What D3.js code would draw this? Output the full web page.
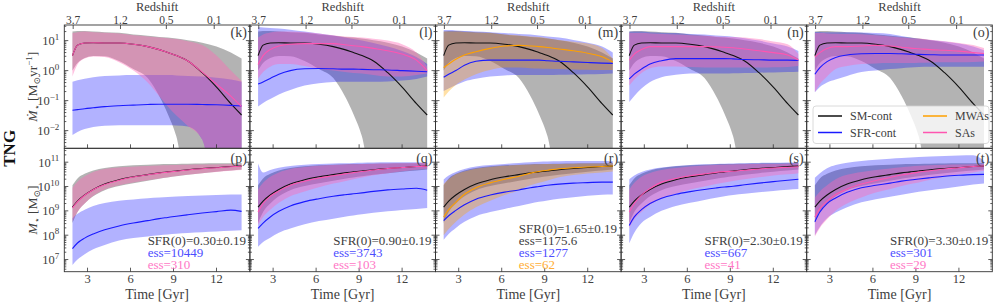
<!DOCTYPE html>
<html>
<meta charset="utf-8">
<title>TNG SFR / stellar mass histories</title>
<script src="https://d3js.org/d3.v7.min.js" charset="utf-8"></script>
<style>
  body { margin: 0; background: #fff; }
  svg, text { font-family: "Liberation Serif", "DejaVu Serif", serif; }
  text { fill: #404040; }
  .frame { fill: none; stroke: #333; stroke-width: 0.9; }
  .tick { stroke: #333; stroke-width: 0.8; }
</style>
<body>
<script>

// ---- data (log10 values) ----
var times = [1.95, 2.3, 2.8, 3.4, 4.2, 5.2, 6.2, 7.2, 8.0, 8.6, 9.2, 10.0, 11.0, 12.0, 13.0, 13.75];

var panelsTop = ["(k)", "(l)", "(m)", "(n)", "(o)"];
var panelsBot = ["(p)", "(q)", "(r)", "(s)", "(t)"];
var sfr0Labels = ["SFR(0)=0.30\u00b10.19", "SFR(0)=0.90\u00b10.19", "SFR(0)=1.65\u00b10.19", "SFR(0)=2.30\u00b10.19", "SFR(0)=3.30\u00b10.19"];
var essSM = [null, null, "ess=1175.6", null, null];
var essSFR = ["ess=10449", "ess=3743", "ess=1277", "ess=667", "ess=301"];
var essSample = ["ess=310", "ess=103", "ess=62", "ess=41", "ess=29"];
var sampleKind = ["SAs", "SAs", "MWAs", "SAs", "SAs"];

var redshiftTicks = [2.0, 5.3, 8.5, 11.84];
var redshiftLabels = ["3.7", "1.2", "0.5", "0.1"];
var timeTicks = [3, 6, 9, 12];
var sfrTicks = [-2, -1, 0, 1];
var massTicks = [7, 8, 9, 10, 11];

// SM-cont, star formation rate (same control sample in every panel)
var smSfrMed = [0.5, 0.85, 0.92, 0.93, 0.92, 0.92, 0.88, 0.8, 0.7, 0.6, 0.5, 0.32, -0.07, -0.55, -1.1, -1.48];
var smSfrHi  = [1.3, 1.32, 1.32, 1.3, 1.28, 1.26, 1.2, 1.16, 1.12, 1.1, 1.07, 1.01, 0.93, 0.8, 0.6, 0.4];
var smSfrLo  = [0.0, 0.25, 0.42, 0.49, 0.48, 0.32, 0.05, -0.25, -0.85, -1.45, -2.2, -4, -4, -4, -4, -4];

// SFR-cont, star formation rate, one row per panel
var sfrSfrMed = [
  [-1.32, -1.3, -1.27, -1.24, -1.2, -1.17, -1.15, -1.13, -1.12, -1.12, -1.12, -1.12, -1.13, -1.14, -1.16, -1.18],
  [-0.45, -0.38, -0.26, -0.12, 0.0, 0.06, 0.07, 0.06, 0.05, 0.05, 0.04, 0.03, 0.02, 0.0, -0.02, -0.04],
  [-0.22, -0.12, 0.0, 0.18, 0.31, 0.35, 0.35, 0.35, 0.35, 0.35, 0.33, 0.31, 0.29, 0.27, 0.25, 0.24],
  [-0.28, -0.12, 0.05, 0.22, 0.33, 0.4, 0.4, 0.4, 0.4, 0.4, 0.39, 0.37, 0.36, 0.35, 0.35, 0.34],
  [-0.12, 0.1, 0.3, 0.44, 0.52, 0.56, 0.57, 0.57, 0.56, 0.55, 0.54, 0.53, 0.52, 0.52, 0.52, 0.52]
];
var sfrSfrHi = [
  [-0.37, -0.32, -0.27, -0.22, -0.18, -0.16, -0.15, -0.15, -0.15, -0.15, -0.16, -0.18, -0.2, -0.24, -0.3, -0.37],
  [1.45, 1.44, 1.42, 1.4, 1.36, 1.3, 1.24, 1.17, 1.1, 1.05, 1.0, 0.92, 0.8, 0.65, 0.45, 0.22],
  [1.35, 1.35, 1.34, 1.32, 1.3, 1.28, 1.25, 1.22, 1.2, 1.17, 1.14, 1.1, 1.02, 0.93, 0.8, 0.6],
  [1.3, 1.3, 1.3, 1.28, 1.26, 1.25, 1.22, 1.2, 1.17, 1.15, 1.13, 1.08, 1.0, 0.9, 0.8, 0.65],
  [1.29, 1.29, 1.28, 1.28, 1.28, 1.27, 1.25, 1.22, 1.15, 1.1, 1.06, 1.02, 0.97, 0.9, 0.8, 0.68]
];
var sfrSfrLo = [
  [-2.15, -2.05, -1.95, -1.88, -1.84, -1.82, -1.82, -1.82, -1.82, -1.82, -1.83, -1.86, -2.3, -4, -4, -4],
  [-1.2, -1.08, -0.95, -0.8, -0.65, -0.5, -0.42, -0.38, -0.37, -0.37, -0.37, -0.37, -0.36, -0.33, -0.28, -0.2],
  [-0.68, -0.6, -0.48, -0.36, -0.27, -0.2, -0.16, -0.15, -0.15, -0.15, -0.15, -0.14, -0.13, -0.12, -0.11, -0.1],
  [-1.05, -0.85, -0.6, -0.38, -0.22, -0.14, -0.1, -0.1, -0.1, -0.1, -0.09, -0.08, -0.07, -0.06, -0.05, -0.04],
  [-0.72, -0.55, -0.4, -0.3, -0.18, -0.05, 0.0, 0.05, 0.08, 0.1, 0.12, 0.13, 0.13, 0.13, 0.13, 0.13]
];

// SAs / MWAs sample, star formation rate
var smpSfrMed = [
  [0.5, 0.85, 0.92, 0.93, 0.92, 0.92, 0.88, 0.8, 0.7, 0.6, 0.5, 0.32, -0.05, -0.45, -0.85, -1.2],
  [0.2, 0.5, 0.7, 0.82, 0.88, 0.9, 0.9, 0.9, 0.86, 0.83, 0.8, 0.74, 0.66, 0.55, 0.35, 0.0],
  [0.1, 0.22, 0.38, 0.52, 0.63, 0.74, 0.82, 0.84, 0.82, 0.8, 0.77, 0.72, 0.66, 0.58, 0.46, 0.29],
  [0.35, 0.55, 0.7, 0.8, 0.8, 0.8, 0.8, 0.8, 0.79, 0.78, 0.76, 0.72, 0.66, 0.6, 0.52, 0.35],
  [0.45, 0.6, 0.74, 0.8, 0.8, 0.82, 0.84, 0.82, 0.78, 0.75, 0.73, 0.7, 0.68, 0.65, 0.6, 0.57]
];
var smpSfrHi = [
  [1.25, 1.28, 1.3, 1.28, 1.26, 1.24, 1.18, 1.14, 1.1, 1.08, 1.05, 0.98, 0.85, 0.5, 0.0, -0.35],
  [1.1, 1.2, 1.27, 1.3, 1.3, 1.28, 1.24, 1.18, 1.14, 1.12, 1.1, 1.06, 1.0, 0.88, 0.6, 0.13],
  [1.3, 1.3, 1.3, 1.29, 1.27, 1.25, 1.2, 1.17, 1.14, 1.12, 1.08, 1.02, 0.96, 0.9, 0.75, 0.4],
  [1.25, 1.25, 1.25, 1.24, 1.22, 1.2, 1.18, 1.16, 1.14, 1.13, 1.12, 1.1, 1.05, 0.97, 0.88, 0.55],
  [1.25, 1.25, 1.24, 1.23, 1.22, 1.21, 1.18, 1.14, 1.1, 1.08, 1.07, 1.03, 0.98, 0.92, 0.85, 0.75]
];
var smpSfrLo = [
  [-0.2, 0.2, 0.4, 0.47, 0.45, 0.28, 0.0, -0.4, -0.85, -1.2, -1.5, -1.85, -2.3, -4, -4, -4],
  [-0.26, -0.05, 0.13, 0.22, 0.22, 0.15, 0.05, 0.0, -0.05, -0.08, -0.1, -0.15, -0.2, -0.2, -0.15, -0.1],
  [-0.9, -0.7, -0.48, -0.3, -0.12, 0.02, 0.1, 0.1, 0.08, 0.07, 0.06, 0.05, 0.04, 0.03, 0.02, 0.02],
  [-0.5, -0.3, -0.08, 0.08, 0.14, 0.14, 0.12, 0.1, 0.1, 0.1, 0.1, 0.1, 0.1, 0.11, 0.12, 0.15],
  [-0.72, -0.45, -0.2, 0.05, 0.15, 0.22, 0.24, 0.25, 0.25, 0.25, 0.26, 0.27, 0.28, 0.28, 0.29, 0.3]
];

// SM-cont, stellar mass
var smMassMed = [9.15, 9.4, 9.65, 9.88, 10.1, 10.28, 10.4, 10.49, 10.56, 10.6, 10.64, 10.69, 10.74, 10.78, 10.82, 10.84];
var smMassHi  = [10.05, 10.33, 10.52, 10.66, 10.76, 10.83, 10.87, 10.89, 10.91, 10.92, 10.93, 10.94, 10.95, 10.96, 10.96, 10.97];
var smMassLo  = [8.5, 8.95, 9.3, 9.6, 9.85, 10.02, 10.13, 10.24, 10.32, 10.37, 10.42, 10.48, 10.55, 10.61, 10.66, 10.7];

// SFR-cont, stellar mass
var sfrMassMed = [
  [7.45, 7.68, 7.88, 8.05, 8.22, 8.38, 8.5, 8.6, 8.68, 8.73, 8.78, 8.84, 8.91, 8.97, 9.03, 8.98],
  [8.28, 8.5, 8.75, 8.98, 9.2, 9.38, 9.5, 9.6, 9.66, 9.7, 9.74, 9.8, 9.86, 9.9, 9.93, 9.85],
  [8.6, 8.8, 9.02, 9.25, 9.48, 9.65, 9.77, 9.86, 9.95, 10.0, 10.05, 10.1, 10.14, 10.16, 10.18, 10.18],
  [8.4, 8.75, 9.05, 9.3, 9.52, 9.68, 9.79, 9.88, 9.94, 9.98, 10.01, 10.07, 10.14, 10.2, 10.26, 10.3],
  [8.55, 8.95, 9.3, 9.53, 9.76, 9.95, 10.05, 10.14, 10.22, 10.27, 10.31, 10.36, 10.42, 10.46, 10.49, 10.5]
];
var sfrMassHi = [
  [8.7, 8.88, 9.05, 9.2, 9.32, 9.42, 9.47, 9.52, 9.55, 9.57, 9.59, 9.61, 9.63, 9.65, 9.67, 9.67],
  [10.95, 10.58, 10.68, 10.77, 10.84, 10.89, 10.92, 10.95, 10.96, 10.97, 10.98, 10.99, 11.0, 11.0, 11.0, 10.98],
  [10.29, 10.45, 10.6, 10.72, 10.82, 10.88, 10.93, 10.97, 11.0, 11.02, 11.03, 11.04, 11.05, 11.05, 11.05, 11.04],
  [10.3, 10.45, 10.6, 10.7, 10.78, 10.84, 10.88, 10.91, 10.93, 10.94, 10.95, 10.96, 10.97, 10.98, 10.99, 11.0],
  [10.36, 10.55, 10.75, 10.88, 10.98, 11.05, 11.1, 11.14, 11.17, 11.19, 11.21, 11.23, 11.25, 11.27, 11.28, 11.05]
];
var sfrMassLo = [
  [6.78, 7.0, 7.22, 7.42, 7.6, 7.78, 7.88, 7.95, 8.0, 8.03, 8.06, 8.09, 8.12, 8.15, 8.18, 8.2],
  [7.53, 7.72, 7.9, 8.1, 8.27, 8.45, 8.58, 8.68, 8.76, 8.81, 8.86, 8.92, 8.98, 9.04, 9.08, 9.12],
  [7.81, 8.05, 8.3, 8.55, 8.78, 8.95, 9.08, 9.2, 9.3, 9.37, 9.43, 9.5, 9.56, 9.62, 9.66, 9.67],
  [7.67, 8.1, 8.5, 8.75, 9.0, 9.2, 9.33, 9.45, 9.54, 9.6, 9.65, 9.7, 9.76, 9.82, 9.87, 9.9],
  [8.0, 8.35, 8.7, 8.93, 9.15, 9.35, 9.48, 9.58, 9.66, 9.72, 9.78, 9.85, 9.92, 10.0, 10.08, 10.12]
];

// SAs / MWAs sample, stellar mass
var smpMassMed = [
  [9.12, 9.38, 9.64, 9.87, 10.08, 10.26, 10.39, 10.48, 10.55, 10.59, 10.63, 10.68, 10.73, 10.77, 10.81, 10.83],
  [8.95, 9.3, 9.6, 9.82, 10.05, 10.22, 10.35, 10.44, 10.52, 10.57, 10.62, 10.68, 10.74, 10.78, 10.82, 10.84],
  [8.75, 9.05, 9.35, 9.68, 9.95, 10.15, 10.3, 10.42, 10.55, 10.62, 10.67, 10.73, 10.77, 10.8, 10.82, 10.84],
  [8.95, 9.3, 9.65, 9.92, 10.18, 10.33, 10.44, 10.52, 10.58, 10.61, 10.63, 10.67, 10.72, 10.76, 10.79, 10.81],
  [8.75, 9.1, 9.4, 9.67, 9.9, 10.1, 10.25, 10.37, 10.47, 10.53, 10.59, 10.65, 10.72, 10.77, 10.82, 10.84]
];
var smpMassHi = [
  [9.95, 10.2, 10.42, 10.6, 10.72, 10.78, 10.81, 10.84, 10.86, 10.87, 10.88, 10.89, 10.9, 10.9, 10.91, 10.91],
  [9.88, 10.15, 10.4, 10.58, 10.72, 10.8, 10.85, 10.88, 10.9, 10.91, 10.92, 10.94, 10.95, 10.96, 10.97, 10.98],
  [10.1, 10.3, 10.5, 10.62, 10.73, 10.8, 10.85, 10.88, 10.9, 10.91, 10.92, 10.93, 10.94, 10.95, 10.95, 10.96],
  [9.88, 10.15, 10.4, 10.56, 10.68, 10.76, 10.82, 10.86, 10.88, 10.89, 10.9, 10.91, 10.92, 10.93, 10.94, 10.95],
  [9.55, 9.8, 10.05, 10.3, 10.48, 10.6, 10.68, 10.74, 10.79, 10.82, 10.85, 10.87, 10.89, 10.9, 10.91, 10.92]
];
var smpMassLo = [
  [8.57, 8.95, 9.3, 9.62, 9.88, 10.05, 10.17, 10.26, 10.33, 10.38, 10.43, 10.48, 10.55, 10.6, 10.65, 10.68],
  [8.43, 8.75, 9.05, 9.33, 9.6, 9.8, 9.97, 10.12, 10.22, 10.3, 10.37, 10.46, 10.55, 10.63, 10.69, 10.73],
  [8.0, 8.25, 8.55, 8.85, 9.15, 9.42, 9.65, 9.85, 10.05, 10.15, 10.25, 10.38, 10.47, 10.53, 10.58, 10.62],
  [8.29, 8.65, 8.95, 9.25, 9.5, 9.7, 9.88, 10.0, 10.1, 10.17, 10.23, 10.3, 10.38, 10.45, 10.5, 10.55],
  [7.95, 8.3, 8.65, 9.0, 9.3, 9.55, 9.75, 9.9, 10.02, 10.1, 10.17, 10.28, 10.4, 10.5, 10.58, 10.65]
];

// ---- layout ----
var width = 997, height = 303;
var left = 64.3, panelW = 185.6;
var yTop = 25, yMid = 148.3, yBot = 271.7;

var colors = {
  sm: { line: "#111", fill: "#808080", op: 0.6 },
  sfr: { line: "#1a1aff", fill: "#0000ff", op: 0.3 },
  SAs: { line: "#ff55b0", fill: "#ff69b4", op: 0.42 },
  MWAs: { line: "#ffa000", fill: "#ffa500", op: 0.35 }
};
var textColors = { sm: "#404040", sfr: "#4d4dff", SAs: "#ff77c6", MWAs: "#ffad33" };

var x = d3.scaleLinear().domain([1.38, 14.33]).range([0, panelW]);
var ySfr = d3.scaleLinear().domain([-2.59, 1.52]).range([yMid, yTop]);
var yMass = d3.scaleLinear().domain([6.5, 11.57]).range([yBot, yMid]);

var svg = d3.select("body").append("svg")
  .attr("width", width)
  .attr("height", height)
  .attr("font-family", "Liberation Serif, DejaVu Serif, serif");

svg.append("defs").selectAll("clipPath")
  .data([["clipTop", yTop, yMid], ["clipBot", yMid, yBot]])
  .enter().append("clipPath")
    .attr("id", function(d) { return d[0]; })
  .append("rect")
    .attr("x", 0).attr("y", function(d) { return d[1]; })
    .attr("width", panelW).attr("height", function(d) { return d[2] - d[1]; });

function band(g, y, lo, hi, c, clip) {
  var area = d3.area()
    .x(function(d, i) { return x(times[i]); })
    .y0(function(d, i) { return y(lo[i]); })
    .y1(function(d, i) { return y(hi[i]); })
    .curve(d3.curveMonotoneX);
  g.append("path")
    .attr("clip-path", "url(#" + clip + ")")
    .attr("d", area(times))
    .attr("fill", c.fill)
    .attr("fill-opacity", c.op);
}

function line(g, y, med, c, clip) {
  var ln = d3.line()
    .x(function(d, i) { return x(times[i]); })
    .y(function(d, i) { return y(med[i]); })
    .curve(d3.curveMonotoneX);
  g.append("path")
    .attr("clip-path", "url(#" + clip + ")")
    .attr("d", ln(times))
    .attr("fill", "none")
    .attr("stroke", c.line)
    .attr("stroke-width", 1.1);
}

function logTicks(g, y, majors) {
  var dom = y.domain();
  majors.forEach(function(m) {
    [0, panelW].forEach(function(px) {
      var dir = px === 0 ? 1 : -1;
      g.append("line").attr("class", "tick")
        .attr("x1", px).attr("x2", px + dir * 4)
        .attr("y1", y(m)).attr("y2", y(m));
    });
  });
  for (var e = Math.floor(dom[0]); e <= Math.ceil(dom[1]); e++) {
    for (var k = 2; k < 10; k++) {
      var v = e + Math.log10(k);
      if (v <= dom[0] || v >= dom[1]) continue;
      [0, panelW].forEach(function(px) {
        var dir = px === 0 ? 1 : -1;
        g.append("line").attr("class", "tick")
          .attr("x1", px).attr("x2", px + dir * 2)
          .attr("y1", y(v)).attr("y2", y(v))
          .attr("stroke-width", 0.6);
      });
    }
  }
}

d3.range(5).forEach(function(i) {
  var g = svg.append("g").attr("transform", "translate(" + (left + i * panelW) + ",0)");
  var kind = sampleKind[i];

  // top row: star formation rate
  band(g, ySfr, smSfrLo, smSfrHi, colors.sm, "clipTop");
  band(g, ySfr, sfrSfrLo[i], sfrSfrHi[i], colors.sfr, "clipTop");
  band(g, ySfr, smpSfrLo[i], smpSfrHi[i], colors[kind], "clipTop");
  line(g, ySfr, smSfrMed, colors.sm, "clipTop");
  line(g, ySfr, sfrSfrMed[i], colors.sfr, "clipTop");
  line(g, ySfr, smpSfrMed[i], colors[kind], "clipTop");

  // bottom row: stellar mass
  band(g, yMass, smMassLo, smMassHi, colors.sm, "clipBot");
  band(g, yMass, sfrMassLo[i], sfrMassHi[i], colors.sfr, "clipBot");
  band(g, yMass, smpMassLo[i], smpMassHi[i], colors[kind], "clipBot");
  line(g, yMass, smMassMed, colors.sm, "clipBot");
  line(g, yMass, sfrMassMed[i], colors.sfr, "clipBot");
  line(g, yMass, smpMassMed[i], colors[kind], "clipBot");

  // frames
  g.append("rect").attr("class", "frame")
    .attr("x", 0).attr("y", yTop).attr("width", panelW).attr("height", yMid - yTop);
  g.append("rect").attr("class", "frame")
    .attr("x", 0).attr("y", yMid).attr("width", panelW).attr("height", yBot - yMid);

  logTicks(g, ySfr, sfrTicks);
  logTicks(g, yMass, massTicks);

  // top redshift axis
  redshiftTicks.forEach(function(t, j) {
    g.append("line").attr("class", "tick")
      .attr("x1", x(t)).attr("x2", x(t)).attr("y1", yTop).attr("y2", yTop + 4);
    g.append("text")
      .attr("x", x(t)).attr("y", 23.5)
      .attr("text-anchor", "middle")
      .attr("font-size", 11.5)
      .text(redshiftLabels[j]);
  });
  g.append("text")
    .attr("x", panelW / 2).attr("y", 11)
    .attr("text-anchor", "middle")
    .attr("font-size", 12.5)
    .text("Redshift");

  // bottom time axis
  timeTicks.forEach(function(t) {
    g.append("line").attr("class", "tick")
      .attr("x1", x(t)).attr("x2", x(t)).attr("y1", yBot).attr("y2", yBot - 4);
    g.append("line").attr("class", "tick")
      .attr("x1", x(t)).attr("x2", x(t)).attr("y1", yMid).attr("y2", yMid - 4);
    g.append("text")
      .attr("x", x(t)).attr("y", 282.5)
      .attr("text-anchor", "middle")
      .attr("font-size", 12.5)
      .text(t);
  });
  g.append("text")
    .attr("x", panelW / 2).attr("y", 298.5)
    .attr("text-anchor", "middle")
    .attr("font-size", 14)
    .text("Time [Gyr]");

  // panel letters
  g.append("text").attr("x", panelW - 3).attr("y", 37)
    .attr("text-anchor", "end").attr("font-size", 14).text(panelsTop[i]);
  g.append("text").attr("x", panelW - 3).attr("y", 162.5)
    .attr("text-anchor", "end").attr("font-size", 14).text(panelsBot[i]);

  // annotation block
  var lines = [{ t: sfr0Labels[i], c: textColors.sm }];
  if (essSM[i]) lines.push({ t: essSM[i], c: textColors.sm });
  lines.push({ t: essSFR[i], c: textColors.sfr });
  lines.push({ t: essSample[i], c: textColors[kind] });
  var n = lines.length;
  var texts = g.selectAll(".ann" + i)
    .data(lines).enter().append("text")
    .attr("y", function(d, j) { return 269 - (n - 1 - j) * 12; })
    .attr("font-size", 13)
    .style("fill", function(d) { return d.c; })
    .text(function(d) { return d.t; });
  var w = texts.nodes()[0].getComputedTextLength();
  texts.attr("x", panelW - 4 - w);
});

// y tick labels on first panel
function yLabels(y, ticks) {
  ticks.forEach(function(v) {
    var t = svg.append("text")
      .attr("x", left - 5).attr("y", y(v) + 4.5)
      .attr("text-anchor", "end")
      .attr("font-size", 12.5);
    t.append("tspan").text("10");
    t.append("tspan").attr("dy", -5.5).attr("font-size", 9)
      .text(v < 0 ? "\u2212" + (-v) : v);
  });
}
yLabels(ySfr, sfrTicks);
yLabels(yMass, massTicks);

// y axis titles
var t1 = svg.append("text")
  .attr("transform", "translate(37," + ((yTop + yMid) / 2) + ")rotate(-90)")
  .attr("text-anchor", "middle").attr("font-size", 13.5);
t1.append("tspan").attr("font-style", "italic").text("\u1e40");
t1.append("tspan").attr("font-size", 9).attr("dy", 3).text("\u22c6");
t1.append("tspan").attr("dy", -3).text(" [M");
t1.append("tspan").attr("font-size", 9).attr("dy", 3).text("\u2299");
t1.append("tspan").attr("dy", -3).text("yr");
t1.append("tspan").attr("font-size", 9).attr("dy", -5).text("\u22121");
t1.append("tspan").attr("dy", 5).text("]");

var t2 = svg.append("text")
  .attr("transform", "translate(37," + ((yMid + yBot) / 2) + ")rotate(-90)")
  .attr("text-anchor", "middle").attr("font-size", 13.5);
t2.append("tspan").attr("font-style", "italic").text("M");
t2.append("tspan").attr("font-size", 9).attr("dy", 3).text("\u22c6");
t2.append("tspan").attr("dy", -3).text(" [M");
t2.append("tspan").attr("font-size", 9).attr("dy", 3).text("\u2299");
t2.append("tspan").attr("dy", -3).text("]");

// simulation name
svg.append("text")
  .attr("transform", "translate(15," + yMid + ")rotate(-90)")
  .attr("text-anchor", "middle")
  .attr("font-size", 17)
  .attr("font-weight", "bold")
  .style("fill", "#111")
  .text("TNG");

// legend in panel (o)
var legendItems = [
  { label: "SM-cont", c: colors.sm.line, col: 0, row: 0 },
  { label: "SFR-cont", c: colors.sfr.line, col: 0, row: 1 },
  { label: "MWAs", c: colors.MWAs.line, col: 1, row: 0 },
  { label: "SAs", c: colors.SAs.line, col: 1, row: 1 }
];
var lg = svg.append("g").attr("transform", "translate(813,106)");
lg.append("rect")
  .attr("width", 176).attr("height", 37.5)
  .attr("rx", 3)
  .attr("fill", "#fff").attr("fill-opacity", 0.8)
  .attr("stroke", "#d0d0d0").attr("stroke-width", 0.8);
var li = lg.selectAll(".li").data(legendItems).enter().append("g")
  .attr("transform", function(d) { return "translate(" + (5 + d.col * 105) + "," + (10 + d.row * 16.5) + ")"; });
li.append("line")
  .attr("x1", 0).attr("x2", 24)
  .attr("stroke", function(d) { return d.c; })
  .attr("stroke-width", 1.5);
li.append("text")
  .attr("x", 32).attr("y", 4.2)
  .attr("font-size", 12)
  .text(function(d) { return d.label; });

</script>
</body>
</html>
